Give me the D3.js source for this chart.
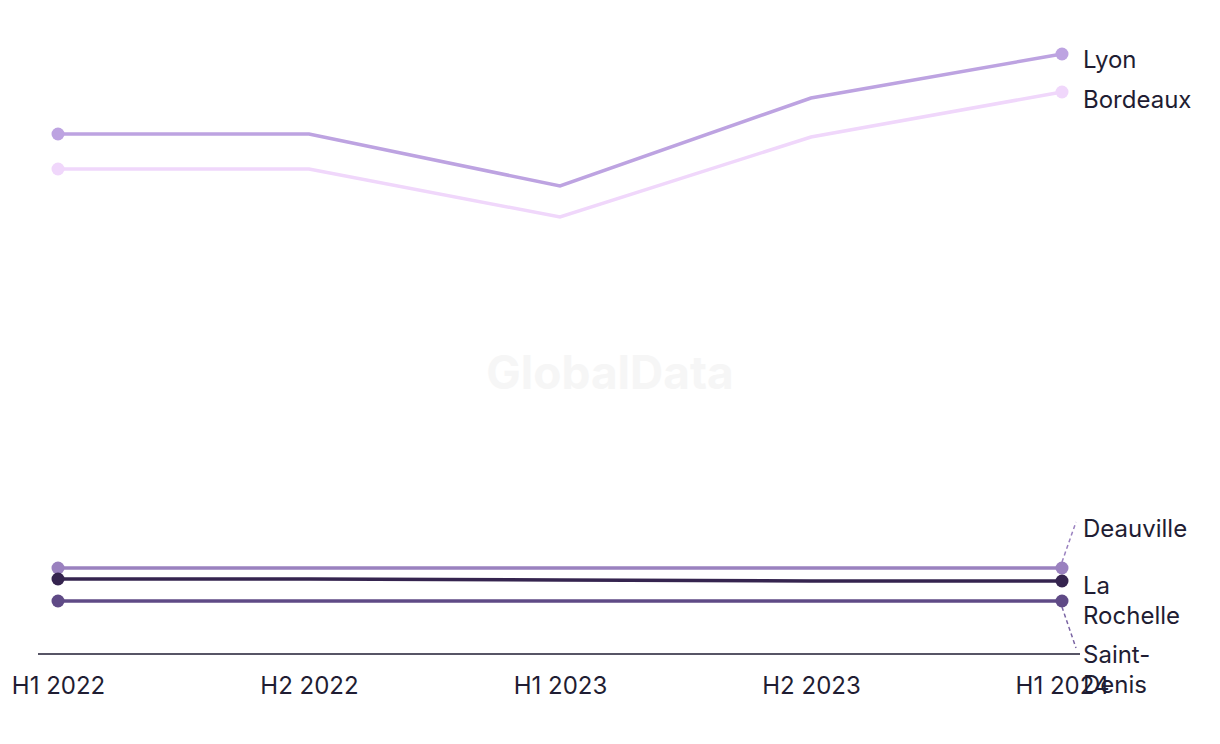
<!DOCTYPE html>
<html><head><meta charset="utf-8">
<script src="https://cdn.jsdelivr.net/npm/d3@7"></script>
<style>body{margin:0;background:#fff;font-family:Inter,"Noto Sans",sans-serif;}</style>
</head><body><svg id="c" width="1220" height="744"></svg>
<script>
const periods = ["H1 2022","H2 2022","H1 2023","H2 2023","H1 2024"];
const lyon = [520,520,468,556,600];
const bordeaux = [485,485,437,517,562];
const deauville = [86,86,86,86,86];
const laRochelle = [75,75,74,73,73];
const saintDenis = [53,53,53,53,53];
const seriesNames = ["Lyon","Bordeaux","Deauville","La Rochelle","Saint-Denis"];
const seriesColors = ["#bda3e1","#f0d7fb","#9a81bf","#35244f","#5f4a86"];
const seriesValues = [lyon,bordeaux,deauville,laRochelle,saintDenis];

const svg = d3.select("#c");
const x = d3.scalePoint().domain(periods).range([58,1062]);
const y = d3.scaleLinear().domain([0,600]).range([654,54]);

svg.append("text").attr("x",610).attr("y",389).attr("text-anchor","middle")
  .attr("font-size",46).attr("font-weight",700).attr("fill","#f6f6f6").text("GlobalData");

// axis
const ax = svg.append("g").attr("transform","translate(0,654)").call(d3.axisBottom(x).tickSize(0));
ax.select(".domain").remove();
ax.selectAll("text").attr("font-size",24).attr("fill","#1f1d33").attr("font-family","Inter,'Noto Sans',sans-serif").attr("dy","0.71em").attr("y",23);
svg.append("line").attr("x1",38).attr("x2",1080).attr("y1",654).attr("y2",654).attr("stroke","#1f1d33").attr("stroke-width",1.5);

const line = d3.line().x((d,i)=>x(periods[i])).y(d=>y(d));
const order = [1,0,2,4,3];
order.forEach(k=>{
  const vals = seriesValues[k];
  svg.append("path").attr("d",line(vals)).attr("fill","none").attr("stroke",seriesColors[k]).attr("stroke-width",3.5);
  [0,vals.length-1].forEach(i=>{
    svg.append("circle").attr("cx",x(periods[i])).attr("cy",y(vals[i])).attr("r",6.5).attr("fill",seriesColors[k]);
  });
});

// labels
const lx = 1083;
const lab = (t,yy)=>svg.append("text").attr("x",lx).attr("y",yy).attr("font-size",24).attr("fill","#1f1d33").attr("dominant-baseline","middle").text(t);
lab("Lyon",61);
lab("Bordeaux",101);
lab("Deauville",530);
lab("La",587);
lab("Rochelle",617);
lab("Saint-",656);
lab("Denis",686);

const last = periods.length-1;
svg.append("line").attr("x1",x(periods[last])).attr("y1",y(deauville[last])-6)
  .attr("x2",1076).attr("y2",522).attr("stroke","#9a81bf").attr("stroke-width",1.5).attr("stroke-dasharray","4,3");
svg.append("line").attr("x1",x(periods[last])).attr("y1",y(saintDenis[last])+6)
  .attr("x2",1076).attr("y2",648).attr("stroke","#7a64a3").attr("stroke-width",1.5).attr("stroke-dasharray","4,3");
</script></body></html>
